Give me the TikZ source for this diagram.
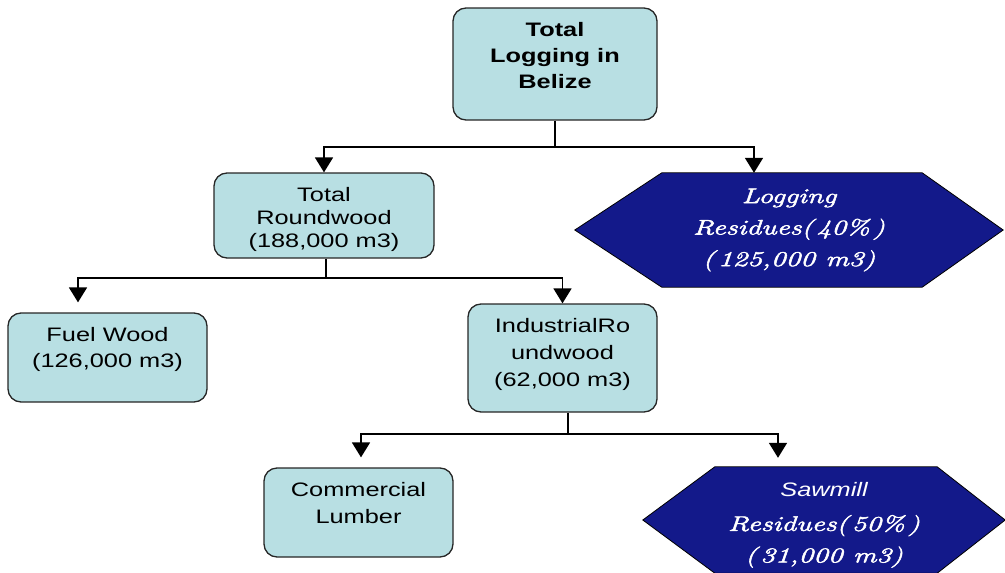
\documentclass[tikz,border=0pt]{standalone}
\usepackage{fontspec}
\setmainfont{Liberation Sans}[FakeStretch=1.3]
\newfontfamily\resfont{Latin Modern Roman}[FakeStretch=1.4, FakeBold=2.5]
\usetikzlibrary{arrows.meta, positioning, backgrounds}
\definecolor{boxcyan}{HTML}{B8DFE3}
\definecolor{resblue}{HTML}{13198A}
% box text sits at the top of a fixed-size box
\newcommand{\boxlines}[3]{\begin{minipage}[c][#2][t]{#1}\centering\rule{0pt}{28pt}#3\end{minipage}}

\begin{document}
\begin{tikzpicture}[x=1pt, y=-1pt,
    flowbox/.style={draw=black!85, line width=1.3pt, fill=boxcyan,
        rounded corners=13pt, inner sep=0pt,
        font=\fontsize{19.5}{26}\selectfont},
    restext/.style={inner sep=0pt, align=center, text=white,
        font=\resfont\itshape\fontsize{21}{31.5}\selectfont},
    hexfill/.style={fill=resblue, draw=black, line width=0.8pt},
    link/.style={draw=black, line width=1.8pt},
    arrow/.style={link, -{Triangle[width=18pt,length=15pt]}}]

    \useasboundingbox (0,0) rectangle (1005,573);

    \node[flowbox] (total) at (555,64)
        {\boxlines{204pt}{112pt}{\bfseries Total\\Logging in\\Belize}};
    \node[flowbox, font=\fontsize{19.5}{23}\selectfont] (round) at (324,215.5)
        {\boxlines{220pt}{85pt}{Total\\Roundwood\\(188,000 m3)}};
    \node[flowbox] (fuel) at (107.5,357.5)
        {\boxlines{199pt}{89pt}{Fuel Wood\\(126,000 m3)}};
    \node[flowbox, font=\fontsize{19.5}{27}\selectfont] (ind) at (562.5,358)
        {\boxlines{189pt}{108pt}{IndustrialRo\\undwood\\(62,000 m3)}};
    \node[flowbox, font=\fontsize{19.5}{27}\selectfont] (lumber) at (358.5,512.5)
        {\boxlines{189pt}{89pt}{Commercial\\Lumber}};

    \node[restext, minimum width=428pt, minimum height=114pt] (logres) at (789,230)
        {Logging\\Residues(\,40\%\,)\\(\,125,000 m3)};
    \node[restext, minimum width=362pt, minimum height=106pt] (sawres) at (824,520)
        {\rule{0pt}{24pt}{\rmfamily\itshape\fontsize{19.5}{31.5}\selectfont Sawmill}\\[3pt]Residues(\,50\%\,)\\(\,31,000 m3)};

    \begin{scope}[on background layer]
        \draw[hexfill] (logres.west) -- ([xshift=87pt]logres.north west)
            -- ([xshift=-81pt]logres.north east) -- (logres.east)
            -- ([xshift=-81pt]logres.south east) -- ([xshift=87pt]logres.south west) -- cycle;
        \draw[hexfill] (sawres.west) -- ([xshift=72pt]sawres.north west)
            -- ([xshift=-68pt]sawres.north east) -- (sawres.east)
            -- ([xshift=-68pt]sawres.south east) -- ([xshift=72pt]sawres.south west) -- cycle;
    \end{scope}

    % connectors
    \draw[link] (total.south) -- ++(0,26) coordinate (split1);
    \draw[arrow] (split1) -| (round.north);
    \draw[arrow] (split1) -| ([xshift=-35pt]logres.north);

    \draw[link] ([xshift=2pt]round.south) -- ++(0,19) coordinate (split2);
    \draw[arrow, shorten >=10pt] (split2) -| ([xshift=-29.5pt]fuel.north);
    \draw[arrow] (split2) -| (ind.north);

    \draw[link] ([xshift=5.5pt]ind.south) -- ++(0,21) coordinate (split3);
    \draw[arrow, shorten >=10pt] (split3) -| ([xshift=2.5pt]lumber.north);
    \draw[arrow, shorten >=9pt] (split3) -| ([xshift=-46pt]sawres.north);

\end{tikzpicture}
\end{document}
